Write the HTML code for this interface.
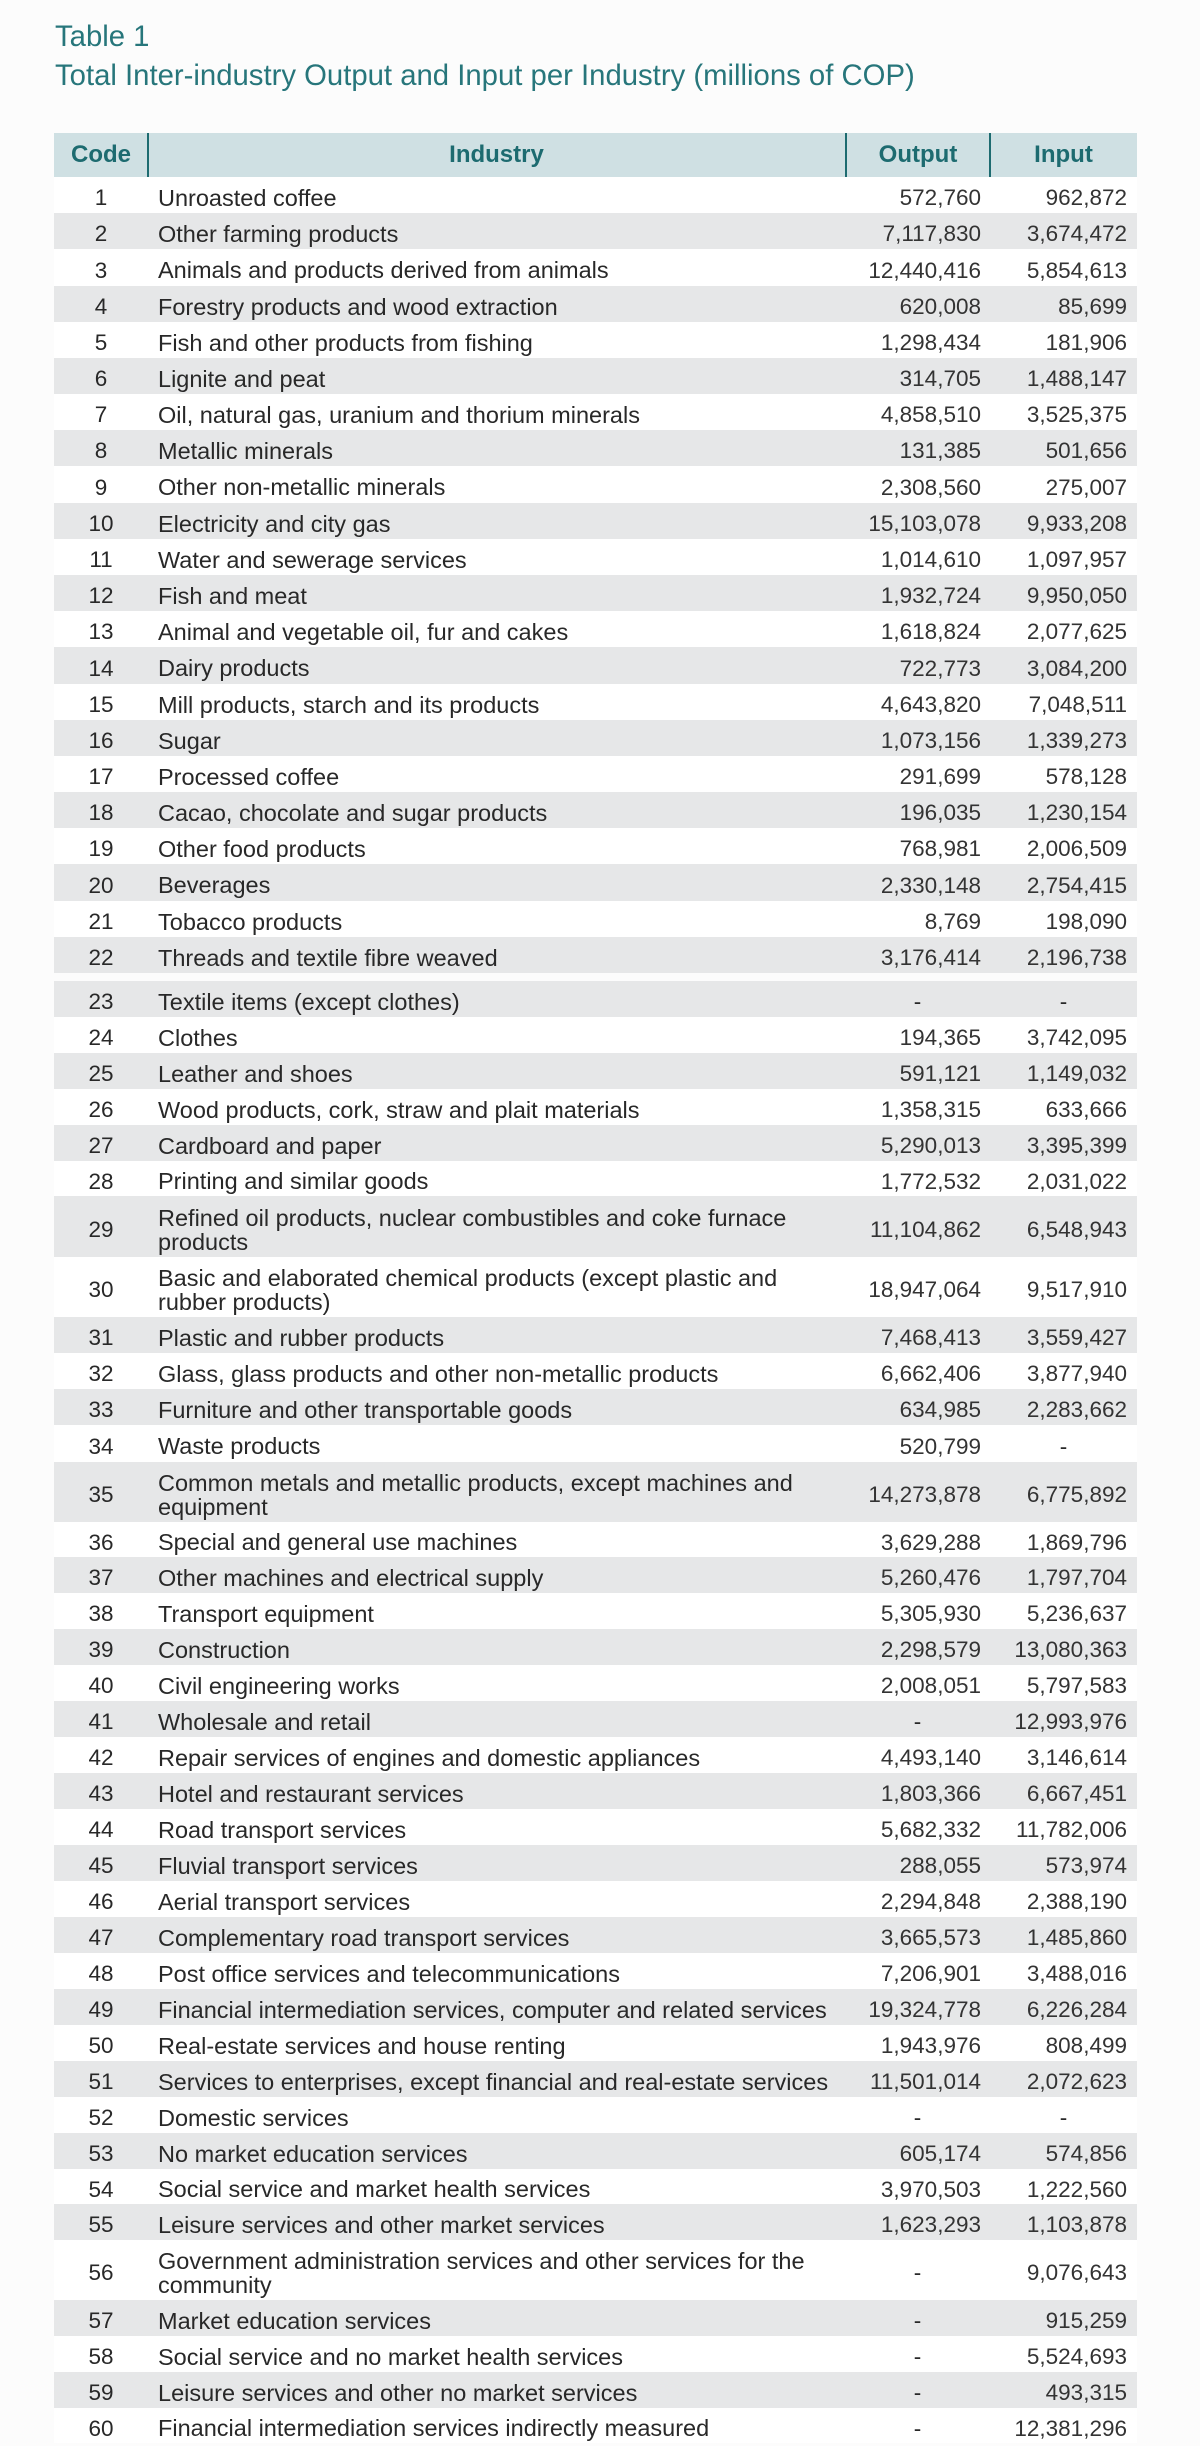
<!DOCTYPE html>
<html>
<head>
<meta charset="utf-8">
<style>
  html, body { margin:0; padding:0; }
  body { width:1200px; height:2443px; background:#fcfcfc; position:relative; overflow:hidden;
         font-family:"Liberation Sans", Arial, sans-serif; }
  .t { position:absolute; left:55px; color:#27767b; font-size:29.3px; white-space:nowrap; line-height:1; }
  .hdr { position:absolute; left:54px; top:133px; width:1083px; height:44px; background:#cfe0e3; }
  .hdr span { position:absolute; top:0; height:44px; line-height:44px; text-align:center;
              color:#1d6b70; font-weight:bold; font-size:24px; }
  .vl { position:absolute; top:0; width:2px; height:44px; background:#1d6b70; }
  .r { position:absolute; left:54px; width:1083px; background:#ffffff; color:#282828; }
  .r.g { background:#e6e7e8; }
  .r span { position:absolute; white-space:nowrap; }
  .c { left:0; width:94px; text-align:center; font-size:22.5px; }
  .n { left:104px; font-size:23.5px; }
  .o { right:156px; font-size:22.5px; text-align:right; color:#333; }
  .i { right:10px; font-size:22.5px; text-align:right; color:#333; }
  .od { left:791px; width:145px; text-align:center; font-size:22.5px; }
  .id { left:936px; width:147px; text-align:center; font-size:22.5px; }
</style>
</head>
<body>
<div class="t" style="top:22px;">Table 1</div>
<div class="t" style="top:61px;">Total Inter-industry Output and Input per Industry (millions of COP)</div>

<div class="hdr">
  <span style="left:0;width:94px;">Code</span>
  <div class="vl" style="left:93px;"></div>
  <span style="left:94px;width:697px;">Industry</span>
  <div class="vl" style="left:791px;"></div>
  <span style="left:792px;width:144px;">Output</span>
  <div class="vl" style="left:935px;"></div>
  <span style="left:936px;width:147px;">Input</span>
</div>

<div id="rows"></div>

<script>
var rows = [
[1,"Unroasted coffee","572,760","962,872"],
[2,"Other farming products","7,117,830","3,674,472"],
[3,"Animals and products derived from animals","12,440,416","5,854,613"],
[4,"Forestry products and wood extraction","620,008","85,699"],
[5,"Fish and other products from fishing","1,298,434","181,906"],
[6,"Lignite and peat","314,705","1,488,147"],
[7,"Oil, natural gas, uranium and thorium minerals","4,858,510","3,525,375"],
[8,"Metallic minerals","131,385","501,656"],
[9,"Other non-metallic minerals","2,308,560","275,007"],
[10,"Electricity and city gas","15,103,078","9,933,208"],
[11,"Water and sewerage services","1,014,610","1,097,957"],
[12,"Fish and meat","1,932,724","9,950,050"],
[13,"Animal and vegetable oil, fur and cakes","1,618,824","2,077,625"],
[14,"Dairy products","722,773","3,084,200"],
[15,"Mill products, starch and its products","4,643,820","7,048,511"],
[16,"Sugar","1,073,156","1,339,273"],
[17,"Processed coffee","291,699","578,128"],
[18,"Cacao, chocolate and sugar products","196,035","1,230,154"],
[19,"Other food products","768,981","2,006,509"],
[20,"Beverages","2,330,148","2,754,415"],
[21,"Tobacco products","8,769","198,090"],
[22,"Threads and textile fibre weaved","3,176,414","2,196,738"],
[23,"Textile items (except clothes)","-","-"],
[24,"Clothes","194,365","3,742,095"],
[25,"Leather and shoes","591,121","1,149,032"],
[26,"Wood products, cork, straw and plait materials","1,358,315","633,666"],
[27,"Cardboard and paper","5,290,013","3,395,399"],
[28,"Printing and similar goods","1,772,532","2,031,022"],
[29,"Refined oil products, nuclear combustibles and coke furnace<br>products","11,104,862","6,548,943"],
[30,"Basic and elaborated chemical products (except plastic and<br>rubber products)","18,947,064","9,517,910"],
[31,"Plastic and rubber products","7,468,413","3,559,427"],
[32,"Glass, glass products and other non-metallic products","6,662,406","3,877,940"],
[33,"Furniture and other transportable goods","634,985","2,283,662"],
[34,"Waste products","520,799","-"],
[35,"Common metals and metallic products, except machines and<br>equipment","14,273,878","6,775,892"],
[36,"Special and general use machines","3,629,288","1,869,796"],
[37,"Other machines and electrical supply","5,260,476","1,797,704"],
[38,"Transport equipment","5,305,930","5,236,637"],
[39,"Construction","2,298,579","13,080,363"],
[40,"Civil engineering works","2,008,051","5,797,583"],
[41,"Wholesale and retail","-","12,993,976"],
[42,"Repair services of engines and domestic appliances","4,493,140","3,146,614"],
[43,"Hotel and restaurant services","1,803,366","6,667,451"],
[44,"Road transport services","5,682,332","11,782,006"],
[45,"Fluvial transport services","288,055","573,974"],
[46,"Aerial transport services","2,294,848","2,388,190"],
[47,"Complementary road transport services","3,665,573","1,485,860"],
[48,"Post office services and telecommunications","7,206,901","3,488,016"],
[49,"Financial intermediation services, computer and related services","19,324,778","6,226,284"],
[50,"Real-estate services and house renting","1,943,976","808,499"],
[51,"Services to enterprises, except financial and real-estate services","11,501,014","2,072,623"],
[52,"Domestic services","-","-"],
[53,"No market education services","605,174","574,856"],
[54,"Social service and market health services","3,970,503","1,222,560"],
[55,"Leisure services and other market services","1,623,293","1,103,878"],
[56,"Government administration services and other services for the<br>community","-","9,076,643"],
[57,"Market education services","-","915,259"],
[58,"Social service and no market health services","-","5,524,693"],
[59,"Leisure services and other no market services","-","493,315"],
[60,"Financial intermediation services indirectly measured","-","12,381,296"]
];
var tops = {};
for (var k=1;k<=22;k++) tops[k] = Math.round(177 + (k-1)*36.18);
var t2 = [[23,981],[24,1017],[25,1053],[26,1089],[27,1125],[28,1161],[29,1196],[30,1257],[31,1317],[32,1353],[33,1389],[34,1425],[35,1462],[36,1522],[37,1557],[38,1593],[39,1629],[40,1665],[41,1701],[42,1737],[43,1773],[44,1809],[45,1845],[46,1881],[47,1917],[48,1953],[49,1989],[50,2025],[51,2061],[52,2097],[53,2133],[54,2169],[55,2204],[56,2240],[57,2300],[58,2336],[59,2372],[60,2408]];
t2.forEach(function(p){tops[p[0]]=p[1];});
var heights = {22:36, 28:35, 29:61, 30:60, 35:60, 56:60, 60:35};
var html = "";
rows.forEach(function(r){
  var n = r[0];
  var top = tops[n];
  var h = heights[n] || ((tops[n+1]||top+36) - top);
  if (n==22) h = 36;
  var gray = (n<=22) ? (n%2==0) : (n%2==1);
  var dbl = r[1].indexOf("<br>")>=0;
  var s = '<div class="r'+(gray?' g':'')+'" style="top:'+top+'px;height:'+h+'px;">';
  var lh = 'top:3px;height:'+h+'px;line-height:'+h+'px;';
  s += '<span class="c" style="'+lh+'">'+n+'</span>';
  if (dbl) {
    var bt = Math.round((h-48)/2)+3;
    s += '<span class="n" style="top:'+bt+'px;line-height:24px;">'+r[1]+'</span>';
  } else {
    s += '<span class="n" style="'+lh+'">'+r[1]+'</span>';
  }
  s += (r[2]=="-") ? '<span class="od" style="'+lh+'">-</span>' : '<span class="o" style="'+lh+'">'+r[2]+'</span>';
  s += (r[3]=="-") ? '<span class="id" style="'+lh+'">-</span>' : '<span class="i" style="'+lh+'">'+r[3]+'</span>';
  s += '</div>';
  html += s;
});
document.getElementById("rows").innerHTML = html;
</script>
</body>
</html>
